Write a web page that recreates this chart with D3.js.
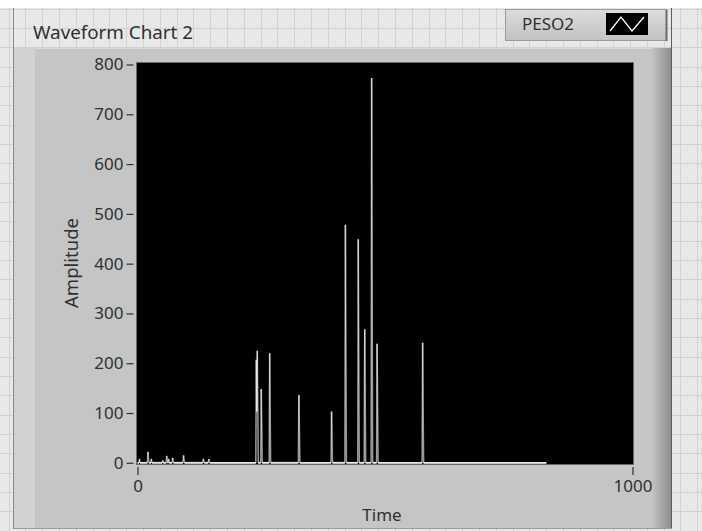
<!DOCTYPE html>
<html>
<head>
<meta charset="utf-8">
<script src="https://cdn.jsdelivr.net/npm/d3@7/dist/d3.min.js"></script>
<style>
  html, body { margin: 0; padding: 0; background: #ffffff; }
  svg { display: block; }
  text { font-family: "Noto Sans", "Open Sans", sans-serif; fill: #303030; }
</style>
</head>
<body>
<svg id="chart" width="702" height="531"></svg>
<script>
// ---------------- data ----------------
const chartTitle = "Waveform Chart 2";
const seriesName = "PESO2";
const xTitle = "Time";
const yTitle = "Amplitude";
const xDomain = [0, 1000];
const yDomain = [0, 800];
const xTickValues = [0, 1000];
const yTickValues = [0, 100, 200, 300, 400, 500, 600, 700, 800];

// waveform samples (time index, amplitude)
const timeIdx = [
  0, 3, 4, 5, 20, 21, 22, 23, 27, 28, 29, 50, 51, 52, 58, 59, 60, 61, 62, 63, 64,
  70, 71, 72, 73, 92, 93, 94, 95, 132, 133, 134, 135, 143, 144, 145, 146,
  239, 240, 241, 242, 243, 244,
  249, 250, 251, 252,
  266, 267, 268, 269,
  325, 326, 327, 328,
  391, 392, 393, 394,
  419, 420, 421, 422,
  445, 446, 447, 448,
  458, 459, 460, 461,
  472, 473, 474, 475,
  483, 484, 485, 486,
  575, 576, 577, 578,
  826
];
const amplitude = [
  0, 0, 8, 0, 0, 22, 11, 0, 0, 8, 0, 0, 5, 0, 0, 14, 7, 0, 0, 8, 0,
  0, 10, 5, 0, 0, 15, 7, 0, 0, 8, 4, 0, 0, 8, 4, 0,
  0, 207, 103, 225, 112, 0,
  0, 148, 74, 0,
  0, 220, 109, 0,
  0, 136, 68, 0,
  0, 103, 51, 0,
  0, 478, 239, 0,
  0, 449, 222, 0,
  0, 268, 132, 0,
  0, 773, 386, 0,
  0, 239, 121, 0,
  0, 241, 118, 0,
  0
];

// ---------------- drawing ----------------
const svg = d3.select("#chart");
const W = 702, H = 531;
const FONT = "Noto Sans, Open Sans, sans-serif";

// front-panel grid background
svg.append("rect").attr("x", 0).attr("y", 0).attr("width", W).attr("height", H).attr("fill", "#ffffff");
svg.append("rect").attr("x", 0).attr("y", 8).attr("width", W).attr("height", H - 8).attr("fill", "#e8e8e8");
const gridG = svg.append("g").attr("stroke", "#d2d2d2").attr("stroke-width", 1);
for (let gx = 8.5; gx < W; gx += 16.8) {
  gridG.append("line").attr("x1", Math.round(gx) + 0.5).attr("x2", Math.round(gx) + 0.5).attr("y1", 8).attr("y2", H);
}
for (let gy = 8.6; gy < H; gy += 19.33) {
  gridG.append("line").attr("x1", 0).attr("x2", W).attr("y1", Math.round(gy) + 0.5).attr("y2", Math.round(gy) + 0.5);
}

// outer frame line of chart object
svg.append("line").attr("x1", 13.5).attr("x2", 13.5).attr("y1", 8).attr("y2", 529).attr("stroke", "#8a8a8a");

// chart panel
const panel = { x: 14, y: 48, w: 658, h: 480 };
const defs = svg.append("defs");
const rg = defs.append("linearGradient").attr("id", "rightShade").attr("x1", "0").attr("x2", "1").attr("y1", "0").attr("y2", "0");
rg.append("stop").attr("offset", "0").attr("stop-color", "#c4c4c4");
rg.append("stop").attr("offset", "1").attr("stop-color", "#8c8c8c");
const lg = defs.append("linearGradient").attr("id", "legendShade").attr("x1", "0").attr("x2", "0").attr("y1", "0").attr("y2", "1");
lg.append("stop").attr("offset", "0").attr("stop-color", "#dcdcdc");
lg.append("stop").attr("offset", "1").attr("stop-color", "#c2c2c2");

svg.append("rect").attr("x", panel.x).attr("y", panel.y).attr("width", panel.w).attr("height", panel.h).attr("fill", "#c5c5c5");
svg.append("rect").attr("x", panel.x).attr("y", panel.y).attr("width", 21).attr("height", panel.h).attr("fill", "#d2d2d2");
svg.append("rect").attr("x", 652).attr("y", panel.y).attr("width", 19).attr("height", panel.h).attr("fill", "url(#rightShade)");
svg.append("line").attr("x1", 671.5).attr("x2", 671.5).attr("y1", 8).attr("y2", 529).attr("stroke", "#5c5c5c");
svg.append("line").attr("x1", 14).attr("x2", 672).attr("y1", 528.5).attr("y2", 528.5).attr("stroke", "#9a9a9a");
svg.append("line").attr("x1", 35).attr("x2", 652).attr("y1", 48.5).attr("y2", 48.5).attr("stroke", "#d8d8d8");

// plot area
const plot = { x0: 137, x1: 633, y0: 63, y1: 464 };
const x = d3.scaleLinear().domain(xDomain).range([137.5, 632.5]);
const y = d3.scaleLinear().domain(yDomain).range([462.8, 64.5]);

svg.append("rect").attr("x", plot.x0 - 1).attr("y", plot.y0 - 1)
  .attr("width", plot.x1 - plot.x0 + 2).attr("height", plot.y1 - plot.y0 + 2).attr("fill", "#6a6a6a");
svg.append("rect").attr("x", plot.x0).attr("y", plot.y0)
  .attr("width", plot.x1 - plot.x0).attr("height", plot.y1 - plot.y0).attr("fill", "#000000");

// waveform: drawn segment by segment so overlapping strokes brighten like the original
const pts = timeIdx.map((t, i) => [t, amplitude[i]]);
const segs = d3.pairs(pts);
svg.append("g").selectAll("line").data(segs).join("line")
  .attr("x1", d => x(d[0][0])).attr("y1", d => y(d[0][1]))
  .attr("x2", d => x(d[1][0])).attr("y2", d => y(d[1][1]))
  .attr("stroke", "#ffffff").attr("stroke-width", 1.5).attr("stroke-opacity", 0.6)
  .attr("stroke-linecap", "butt");
// baseline shows as a solid light trace
svg.append("g").selectAll("line").data(segs.filter(d => d[0][1] === 0 && d[1][1] === 0)).join("line")
  .attr("x1", d => x(d[0][0])).attr("y1", d => y(d[0][1]))
  .attr("x2", d => x(d[1][0])).attr("y2", d => y(d[1][1]))
  .attr("stroke", "#e8e8e8").attr("stroke-width", 1.8);

// axes
const fontSize = 17;
const yAxis = d3.axisLeft(y).tickValues(yTickValues).tickSize(7).tickPadding(3).tickSizeOuter(0);
const yg = svg.append("g").attr("transform", `translate(${plot.x0 - 3.5},0)`).call(yAxis);
yg.select(".domain").remove();
yg.selectAll(".tick line").attr("stroke", "#303030").attr("stroke-width", 1.2);
yg.selectAll(".tick text").attr("font-family", FONT).attr("font-size", fontSize).attr("fill", "#303030");

const xAxis = d3.axisBottom(x).tickValues(xTickValues).tickSize(8).tickPadding(5).tickFormat(d3.format("d")).tickSizeOuter(0);
const xg = svg.append("g").attr("transform", `translate(0,${plot.y1 + 3})`).call(xAxis);
xg.select(".domain").remove();
xg.selectAll(".tick line").attr("stroke", "#303030").attr("stroke-width", 1.2);
xg.selectAll(".tick text").attr("font-family", FONT).attr("font-size", fontSize).attr("fill", "#303030");

// axis titles
svg.append("text").attr("x", 382).attr("y", 521)
  .attr("text-anchor", "middle").attr("font-size", fontSize).text(xTitle);
svg.append("text").attr("transform", `translate(78,263) rotate(-90)`)
  .attr("text-anchor", "middle").attr("font-size", 18)
  .attr("textLength", 90).attr("lengthAdjust", "spacingAndGlyphs").text(yTitle);

// chart title
svg.append("text").attr("x", 33).attr("y", 39).attr("font-size", 18)
  .attr("textLength", 160).attr("lengthAdjust", "spacingAndGlyphs").text(chartTitle);

// legend
const leg = svg.append("g");
leg.append("rect").attr("x", 505.5).attr("y", 9.5).attr("width", 161).attr("height", 31)
  .attr("fill", "url(#legendShade)").attr("stroke", "#9a9a9a");
leg.append("line").attr("x1", 666.5).attr("x2", 666.5).attr("y1", 10).attr("y2", 41).attr("stroke", "#6a6a6a").attr("stroke-width", 2);
leg.append("text").attr("x", 522).attr("y", 30).attr("font-size", fontSize).text(seriesName);
leg.append("rect").attr("x", 606).attr("y", 13).attr("width", 42).attr("height", 22).attr("fill", "#000");
const iconPts = [[610, 31], [621, 17], [632, 31], [644, 17]];
leg.append("path").attr("d", d3.line()(iconPts)).attr("fill", "none").attr("stroke", "#ffffff").attr("stroke-width", 1.3);
</script>
</body>
</html>
